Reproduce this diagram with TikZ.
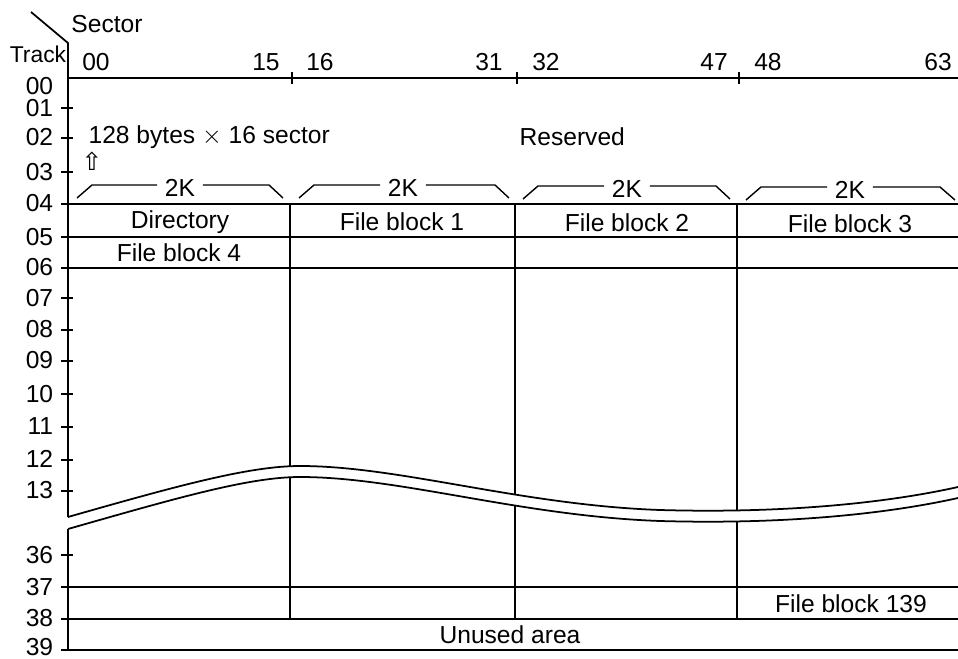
\documentclass[tikz,border=0pt]{standalone}
\usepackage{fontspec}
\setmainfont{Liberation Sans}
\newfontfamily\arrowfont{DejaVu Sans}
\usepackage{tikz}

\begin{document}
\begin{tikzpicture}[x=0.02cm, y=-0.02cm, line width=1pt,
  every node/.style={font=\fontsize{14}{16}\selectfont, inner sep=1pt},
  trk/.style={anchor=east, inner sep=0pt},
  brace/.style={line width=0.8pt}]
  \useasboundingbox (0,0) rectangle (958,659);
  % corner and sector axis
  \draw (31,12) -- (68,43) -- (68,517);
  \draw (68,529) -- (68,650);
  \draw (68,78) -- (958,78);
  \draw (292,72) -- (292,84);
  \draw (517,72) -- (517,84);
  \draw (739,72) -- (739,84);
  \node (sector) at (107,24) {Sector};
  \node[font=\fontsize{13}{15}\selectfont] (track) at (38,54) {Track};
  \node (s00) at (96,62) {00};
  \node (s15) at (266,62) {15};
  \node (s16) at (320,62) {16};
  \node (s31) at (489,62) {31};
  \node (s32) at (546,62) {32};
  \node (s47) at (714,62) {47};
  \node (s48) at (768,62) {48};
  \node (s63) at (938,62) {63};
  % track ticks
  \draw (61,108) -- (73,108);
  \draw (61,138) -- (73,138);
  \draw (61,172) -- (73,172);
  \draw (61,298) -- (73,298);
  \draw (61,330) -- (73,330);
  \draw (61,361) -- (73,361);
  \draw (61,394) -- (73,394);
  \draw (61,427) -- (73,427);
  \draw (61,460) -- (73,460);
  \draw (61,491) -- (73,491);
  \draw (61,555) -- (73,555);
  % track rows
  \draw (61,204) -- (958,204);
  \draw (61,237) -- (958,237);
  \draw (61,268) -- (958,268);
  \draw (61,587) -- (958,587);
  \draw (61,619) -- (958,619);
  \draw (61,650) -- (958,650);
  \draw (290,204) -- (290,619);
  \draw (515,204) -- (515,619);
  \draw (737,204) -- (737,619);
  % break in the track range
  \fill[white] (68,517) .. controls (180,485) and (250,466) .. (300,466)
    .. controls (400,466) and (520,505) .. (660,510)
    .. controls (800,514) and (900,500) .. (958,487)
    -- (958,498) .. controls (900,511) and (800,525) .. (660,521)
    .. controls (520,516) and (400,477) .. (300,477)
    .. controls (250,477) and (180,497) .. (68,529) -- cycle;
  \draw (68,517) .. controls (180,485) and (250,466) .. (300,466)
    .. controls (400,466) and (520,505) .. (660,510)
    .. controls (800,514) and (900,500) .. (958,487);
  \draw (68,529) .. controls (180,497) and (250,477) .. (300,477)
    .. controls (400,477) and (520,516) .. (660,521)
    .. controls (800,525) and (900,511) .. (958,498);
  % track numbers
  \node[trk] (t00) at (54,86) {00};
  \node[trk] (t01) at (54,108) {01};
  \node[trk] (t02) at (54,137) {02};
  \node[trk] (t03) at (54,172) {03};
  \node[trk] (t04) at (54,203) {04};
  \node[trk] (t05) at (54,237) {05};
  \node[trk] (t06) at (54,267) {06};
  \node[trk] (t07) at (54,298) {07};
  \node[trk] (t08) at (54,329) {08};
  \node[trk] (t09) at (54,360) {09};
  \node[trk] (t10) at (54,394) {10};
  \node[trk] (t11) at (54,426) {11};
  \node[trk] (t12) at (54,459) {12};
  \node[trk] (t13) at (54,490) {13};
  \node[trk] (t36) at (54,555) {36};
  \node[trk] (t37) at (54,587) {37};
  \node[trk] (t38) at (54,618) {38};
  \node[trk] (t39) at (54,647) {39};
  % reserved tracks
  \node[anchor=west] (bytes) at (86,137) {128 bytes $\times$ 16 sector};
  \node (up) at (92,161) {\arrowfont\fontsize{14}{15}\selectfont ⇧};
  \node[anchor=west] (reserved) at (517,137) {Reserved};
  \node[inner sep=4pt] (k1) at (180,188) {2K};
  \node[inner sep=4pt] (k2) at (403,188) {2K};
  \node[inner sep=4pt] (k3) at (627,189) {2K};
  \node[inner sep=4pt] (k4) at (850,190) {2K};
  \draw[brace] (77,198) -- (92,185) -- (k1.west |- 0,185);
  \draw[brace] (k1.east |- 0,185) -- (269,185) -- (283,198);
  \draw[brace] (299,198) -- (314,185) -- (k2.west |- 0,185);
  \draw[brace] (k2.east |- 0,185) -- (495,185) -- (509,198);
  \draw[brace] (523,199) -- (538,186) -- (k3.west |- 0,186);
  \draw[brace] (k3.east |- 0,186) -- (716,186) -- (730,199);
  \draw[brace] (746,200) -- (761,187) -- (k4.west |- 0,187);
  \draw[brace] (k4.east |- 0,187) -- (940,187) -- (955,200);
  % blocks
  \node (dir) at (180,222) {Directory};
  \node (fb1) at (402,222) {File block 1};
  \node (fb2) at (627,223) {File block 2};
  \node (fb3) at (850,224) {File block 3};
  \node (fb4) at (179,253) {File block 4};
  \node (fb139) at (851,604) {File block 139};
  \node (unused) at (510,635) {Unused area};
\end{tikzpicture}
\end{document}
